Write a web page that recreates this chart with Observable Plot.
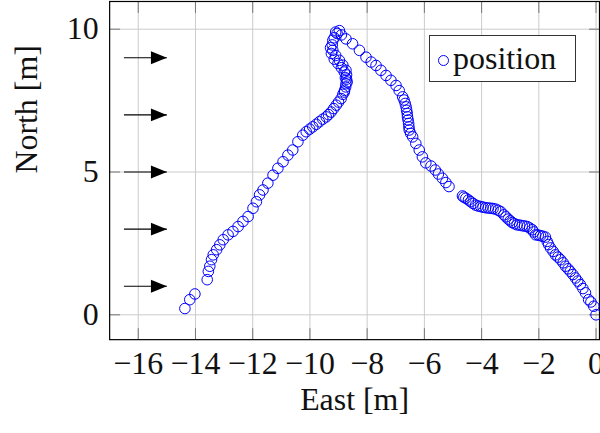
<!DOCTYPE html>
<html>
<head>
<meta charset="utf-8">
<script src="https://cdn.jsdelivr.net/npm/d3@7"></script>
<script src="https://cdn.jsdelivr.net/npm/@observablehq/plot@0.6"></script>
<style>
  html, body { margin: 0; padding: 0; background: white; overflow: hidden; }
  #wrap { position: relative; width: 600px; height: 433px; overflow: hidden; }
  #legend {
    position: absolute; left: 429px; top: 35px; width: 145px; height: 45px;
    border: 1.2px solid #333; background: white;
    font-family: "Liberation Serif", serif; font-size: 32px; color: #111;
    display: flex; align-items: center; box-sizing: content-box;
  }
  #legend .sym { width: 9px; height: 9px; border: 1.1px solid #0000ff; border-radius: 50%; margin-left: 8px; margin-right: 4px; margin-top: 3px; }
</style>
</head>
<body>
<div id="wrap">
  <div id="chart"></div>
  <div id="legend"><span class="sym"></span><span>position</span></div>
</div>
<script>
// Trajectory (East, North) in metres
const east = [
  0.00,-0.08,-0.18,-0.26,-0.37,-0.46,-0.55,-0.64,-0.72,-0.81,-0.90,-0.98,-1.07,-1.15,-1.24,-1.33,-1.42,-1.50,-1.59,-1.66,
  -1.71,-1.77,-1.86,-1.94,-2.02,-2.11,-2.18,-2.23,-2.32,-2.41,-2.50,-2.58,-2.67,-2.76,-2.85,-2.93,-3.00,-3.07,-3.15,-3.22,
  -3.33,-3.42,-3.51,-3.60,-3.68,-3.77,-3.86,-3.95,-4.03,-4.12,-4.21,-4.30,-4.38,-4.46,-4.55,-4.62,-4.67,-5.14,-5.25,-5.37,
  -5.51,-5.62,-5.77,-5.95,-6.07,-6.18,-6.30,-6.41,-6.48,-6.53,-6.54,-6.55,-6.57,-6.59,-6.60,-6.62,-6.64,-6.67,-6.71,-6.76,
  -6.88,-6.99,-7.17,-7.34,-7.52,-7.69,-7.86,-8.04,-8.27,-8.51,-8.74,
  -8.97,-8.90,-9.05,-9.10,-9.15,-9.20,-9.22,-9.28,-9.20,-9.25,-9.10,-9.15,-8.97,-9.02,-8.85,-8.90,-8.74,-8.80,-8.72,-8.76,
  -8.72,-8.70,-8.74,-8.75,-8.79,-8.80,-8.85,-8.91,-9.00,-9.08,-9.17,-9.26,-9.35,-9.43,-9.55,-9.67,-9.78,-9.90,-10.01,-10.13,
  -10.25,-10.42,-10.60,-10.77,-10.94,-11.12,-11.29,-11.47,-11.64,-11.76,-11.87,-11.99,-12.16,-12.34,-12.51,-12.69,-12.86,-13.03,-13.15,-13.26,
  -13.38,-13.44,-13.50,-13.55,-13.59,-14.02,-14.20,-14.37
];
const north = [
  0.00,0.30,0.45,0.53,0.77,0.92,1.06,1.18,1.29,1.41,1.52,1.61,1.70,1.82,1.93,2.02,2.10,2.22,2.34,2.46,
  2.57,2.72,2.75,2.77,2.79,2.80,2.90,2.98,3.04,3.09,3.11,3.12,3.14,3.15,3.19,3.23,3.29,3.35,3.43,3.50,
  3.61,3.66,3.70,3.72,3.73,3.74,3.75,3.77,3.79,3.81,3.84,3.90,3.96,4.02,4.08,4.12,4.16,4.49,4.63,4.78,
  4.93,5.07,5.21,5.32,5.53,5.77,6.00,6.23,6.35,6.47,6.58,6.70,6.82,6.93,7.05,7.16,7.28,7.40,7.52,7.63,
  7.85,8.03,8.21,8.38,8.56,8.73,8.85,9.02,9.26,9.49,9.66,
  9.95,9.80,9.85,9.90,9.70,9.61,9.45,9.35,9.26,9.15,9.08,8.95,8.91,8.80,8.74,8.65,8.56,8.50,8.40,8.30,
  8.25,8.15,8.09,7.98,7.86,7.80,7.72,7.57,7.45,7.34,7.22,7.10,7.01,6.93,6.85,6.76,6.67,6.58,6.50,6.41,
  6.29,6.06,5.77,5.59,5.36,5.13,4.89,4.61,4.37,4.20,3.96,3.73,3.44,3.27,3.09,2.92,2.80,2.63,2.45,2.28,
  2.10,1.93,1.70,1.52,1.23,0.73,0.53,0.22
];
// Direction arrows
const arrowNorth = [1, 3, 5, 7, 9];
const arrowStartEast = -16.5;
const arrowEndEast = -15;
// Ticks
const xTicks = [-16, -14, -12, -10, -8, -6, -4, -2, 0];
const yTicks = [0, 5, 10];

const points = east.map((e, i) => ({east: e, north: north[i]}));
const arrows = arrowNorth.map(n => ({n, x1: arrowStartEast, x2: arrowEndEast}));

const headRight = {
  draw(context) {
    context.moveTo(-16, -6.5);
    context.lineTo(0, 0);
    context.lineTo(-16, 6.5);
    context.closePath();
  }
};

const tickStyle = {stroke: "#777", strokeWidth: 1, tickFormat: () => "", label: null};

const chart = Plot.plot({
  width: 602,
  height: 433,
  marginLeft: 109.5,
  marginRight: 1,
  marginTop: 1,
  marginBottom: 92.7,
  x: {domain: [-17, 0.12]},
  y: {domain: [-0.87, 10.97]},
  style: {fontFamily: "'Liberation Serif', serif", fontSize: "32px", background: "white", color: "#111"},
  marks: [
    Plot.gridX(xTicks, {stroke: "#cbcbcb", strokeOpacity: 1, strokeWidth: 1}),
    Plot.gridY(yTicks, {stroke: "#cbcbcb", strokeOpacity: 1, strokeWidth: 1}),
    Plot.axisX(xTicks, {anchor: "bottom", tickSize: 0, tickPadding: 12, label: null, fontSize: 32}),
    Plot.axisX(xTicks, {anchor: "bottom", tickSize: -11, ...tickStyle}),
    Plot.axisX(xTicks, {anchor: "top", tickSize: -11, ...tickStyle}),
    Plot.axisY(yTicks, {anchor: "left", tickSize: 0, tickPadding: 11, label: null, fontSize: 32}),
    Plot.axisY(yTicks, {anchor: "left", tickSize: -11, ...tickStyle}),
    Plot.axisY(yTicks, {anchor: "right", tickSize: -11, ...tickStyle}),
    Plot.frame({stroke: "black", strokeWidth: 1.2}),
    Plot.text(["East [m]"], {text: d => d, frameAnchor: "bottom", lineAnchor: "middle", dy: 60, fontSize: 32}),
    Plot.text(["North [m]"], {text: d => d, frameAnchor: "left", lineAnchor: "middle", dx: -82.7, dy: 3, rotate: -90, fontSize: 32}),
    Plot.link(arrows, {x1: "x1", x2: "x2", y1: "n", y2: "n", stroke: "black", strokeWidth: 1.2}),
    Plot.dot(arrows, {x: "x2", y: "n", symbol: headRight, fill: "black", stroke: "none"}),
    Plot.dot(points, {x: "east", y: "north", r: 5.3, stroke: "#0000ff", strokeWidth: 1, fill: "none"})
  ]
});
document.getElementById("chart").appendChild(chart);
</script>
</body>
</html>
